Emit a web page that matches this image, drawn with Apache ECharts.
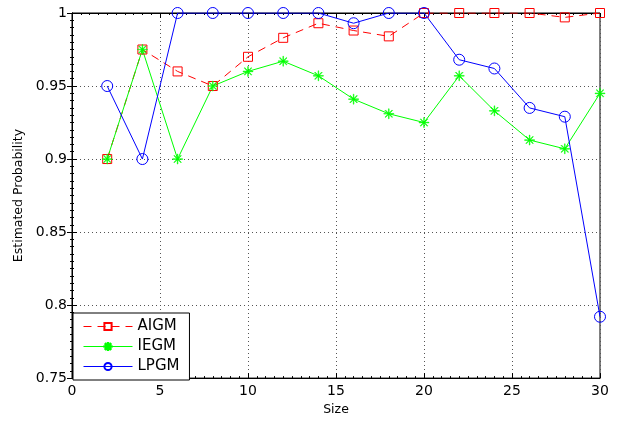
<!DOCTYPE html>
<html>
<head>
<meta charset="utf-8">
<script src="https://cdn.jsdelivr.net/npm/echarts@6/dist/echarts.min.js"></script>
<style>
html,body{margin:0;padding:0;background:#fff;}
#chart{width:634px;height:421px;}
</style>
</head>
<body>
<div id="chart"></div>
<script>
// sizes along the x axis
var sizes = [2, 4, 6, 8, 10, 12, 14, 16, 18, 20, 22, 24, 26, 28, 30];
// estimated probabilities
var aigm = [0.9, 0.975, 0.96, 0.95, 0.97, 0.983, 0.993, 0.988, 0.984, 1.0, 1.0, 1.0, 1.0, 0.997, 1.0];
var iegm = [0.9, 0.975, 0.9, 0.95, 0.96, 0.967, 0.957, 0.941, 0.931, 0.925, 0.957, 0.933, 0.913, 0.907, 0.945];
var lpgm = [0.95, 0.9, 1.0, 1.0, 1.0, 1.0, 1.0, 0.993, 1.0, 1.0, 0.968, 0.962, 0.935, 0.929, 0.792];
var yTicks = ['0.75', '0.8', '0.85', '0.9', '0.95', '1'];

function pairs(ys){
	var out = [];
	for(var i = 0; i < sizes.length; i++){
		out.push([sizes[i], ys[i]]);
	}
	return out;
}

// asterisk marker, matlab style
var star = 'path://M-0.7,-10L0.7,-10L0.7,10L-0.7,10Z M-10,-0.7L10,-0.7L10,0.7L-10,0.7Z ' +
	'M-7.6,-6.6L-6.6,-7.6L7.6,6.6L6.6,7.6Z M6.6,-7.6L7.6,-6.6L-6.6,7.6L-7.6,6.6Z';

var font = 'DejaVu Sans';
var tick = {show: true, inside: true, length: 5, lineStyle: {color: '#000'}};
var minor = {show: true, splitNumber: 10, length: 2, lineStyle: {color: '#000'}};

var myChart = echarts.init(document.getElementById('chart'));
var option = {
	backgroundColor: '#fff',
	animation: false,
	textStyle: {fontFamily: font, color: '#000'},
	grid: {
		left: 72, right: 34, top: 13, bottom: 41,
		show: true, borderColor: '#000', borderWidth: 1
	},
	legend: {
		left: 73, top: 313,
		orient: 'vertical',
		backgroundColor: '#fff',
		borderColor: '#000',
		borderWidth: 1,
		borderRadius: 0,
		padding: [6, 10, 6, 10],
		itemWidth: 49,
		itemHeight: 9,
		itemGap: 5,
		lineStyle: {width: 1},
		textStyle: {fontFamily: font, fontSize: 15, lineHeight: 15, color: '#000'},
		data: ['AIGM', 'IEGM', 'LPGM']
	},
	xAxis: [{
		type: 'value', min: 0, max: 30, interval: 5,
		name: 'Size', nameLocation: 'middle', nameGap: 22,
		nameTextStyle: {fontFamily: font, fontSize: 12.5, color: '#000'},
		axisLine: {lineStyle: {color: '#000'}},
		axisTick: tick, minorTick: minor,
		axisLabel: {fontFamily: font, fontSize: 14, color: '#000', margin: 6},
		splitLine: {show: true, lineStyle: {type: [1, 3], color: '#555'}}
	}, {
		type: 'value', min: 0, max: 30, interval: 5, position: 'top',
		axisLine: {lineStyle: {color: '#000'}},
		axisTick: tick, minorTick: minor,
		axisLabel: {show: false}, splitLine: {show: false}
	}],
	yAxis: [{
		type: 'value', min: 0.75, max: 1, interval: 0.05,
		name: 'Estimated Probability', nameLocation: 'middle', nameGap: 47,
		nameTextStyle: {fontFamily: font, fontSize: 12.5, color: '#000'},
		axisLine: {show: true, lineStyle: {color: '#000'}},
		axisTick: tick, minorTick: minor,
		axisLabel: {fontFamily: font, fontSize: 14, color: '#000', margin: 5,
			formatter: function(v, i){ return yTicks[i]; }},
		splitLine: {show: true, lineStyle: {type: [1, 3], color: '#555'}}
	}, {
		type: 'value', min: 0.75, max: 1, interval: 0.05, position: 'right',
		axisLine: {show: true, lineStyle: {color: '#000'}},
		axisTick: tick, minorTick: minor,
		axisLabel: {show: false}, splitLine: {show: false}
	}],
	series: [{
		name: 'AIGM', type: 'line', data: pairs(aigm),
		symbol: 'rect', symbolSize: 9,
		lineStyle: {color: '#ff0000', width: 1, type: [8, 6]},
		itemStyle: {color: 'rgba(0,0,0,0)', borderColor: '#ff0000', borderWidth: 1}
	}, {
		name: 'IEGM', type: 'line', data: pairs(iegm),
		symbol: star, symbolSize: 10,
		lineStyle: {color: '#00ff00', width: 1},
		itemStyle: {color: '#00ff00', borderColor: '#00ff00', borderWidth: 0.5}
	}, {
		name: 'LPGM', type: 'line', data: pairs(lpgm),
		symbol: 'circle', symbolSize: 11,
		lineStyle: {color: '#0000ff', width: 1},
		itemStyle: {color: 'rgba(0,0,0,0)', borderColor: '#0000ff', borderWidth: 1}
	}]
};
myChart.setOption(option);
</script>
</body>
</html>
